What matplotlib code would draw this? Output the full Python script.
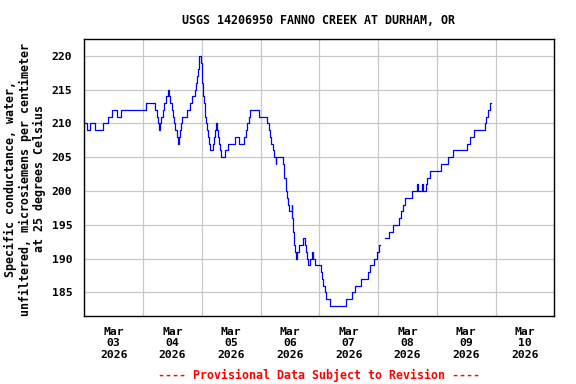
import numpy as np
import matplotlib
matplotlib.use("Agg")
import matplotlib.pyplot as plt
import matplotlib.dates as mdates
from datetime import datetime, timedelta

# hours after 2026-03-03 00:00 where the reading changes, and the new reading
hours = [0.25, 1.0, 2.5, 4.25, 7.5, 9.75, 11.25, 13.5, 15.0, 25.25,
         29.0, 29.5, 30.0, 30.5, 31.0, 31.25, 32.0, 32.75, 33.25, 34.0,
         34.5, 35.0, 35.75, 36.25, 36.75, 37.25, 37.75, 38.25, 38.75, 39.0,
         39.5, 40.0, 42.0, 43.0, 44.0, 45.25, 45.5, 46.0, 46.25, 46.75,
         47.0, 47.75, 48.0, 48.25, 48.5, 48.75, 49.25, 49.75, 50.0, 50.5,
         51.0, 51.25, 52.5, 53.0, 53.5, 53.75, 54.25, 54.5, 55.0, 55.5,
         56.0, 57.5, 58.5, 61.75, 63.25, 65.25, 66.0, 66.5, 67.25, 67.75,
         71.5, 74.5, 75.25, 75.75, 76.25, 77.0, 77.5, 78.25, 78.5, 81.0,
         81.5, 81.75, 82.25, 82.5, 83.0, 83.25, 83.5, 84.75, 85.0, 85.25,
         85.75, 86.0, 86.5, 87.0, 87.75, 89.5, 90.0, 90.5, 91.0, 91.5,
         92.25, 93.0, 93.5, 94.25, 96.75, 97.25, 97.5, 98.25, 98.75, 100.5,
         107.0, 109.5, 110.5, 113.0, 116.0, 116.75, 118.5, 119.5, 120.5, 121.0,
         122.75, 124.5, 126.0, 128.75, 129.25, 130.25, 131.0, 133.75, 136.0, 136.5,
         138.0, 138.5, 139.5, 140.0, 141.25, 145.75, 148.5, 150.75, 156.5, 157.5,
         159.25, 163.5, 164.0, 165.0, 165.75, 166.0]
conductance = [210, 209, 210, 209, 210, 211, 212, 211, 212, 213,
               212, 211, 210, 209, 210, 211, 212, 213, 214, 215,
               214, 213, 212, 211, 210, 209, 208, 207, 208, 209,
               210, 211, 212, 213, 214, 215, 216, 217, 218, 219,
               220, 219, 218, 216, 214, 213, 211, 210, 209, 208,
               207, 206, 207, 208, 209, 210, 209, 208, 207, 206,
               205, 206, 207, 208, 207, 208, 209, 210, 211, 212,
               211, 210, 209, 208, 207, 206, 205, 204, 205, 204,
               203, 202, 201, 200, 199, 198, 197, 198, 196, 194,
               192, 191, 190, 191, 192, 193, 192, 191, 190, 189,
               190, 191, 190, 189, 188, 187, 186, 185, 184, 183,
               184, 185, 186, 187, 188, 189, 190, 191, 192, np.nan,
               193, 194, 195, 196, 197, 198, 199, 200, 201, 200,
               201, 200, 201, 202, 203, 204, 205, 206, 207, 208,
               209, 210, 211, 212, 213, 213]

start = datetime(2026, 3, 3)
times = [start + timedelta(hours=h) for h in hours]

font = "DejaVu Sans Mono"

fig = plt.figure(figsize=(5.76, 3.84), dpi=100)
ax = fig.add_axes([84.3 / 576, 1 - 315.7 / 384, 470 / 576, 276.4 / 384])

ax.plot(times, conductance, color="#0000ff", lw=0.9, drawstyle="steps-post")

ax.set_xlim(start, start + timedelta(days=8))
ax.set_ylim(181.55, 222.45)
ax.set_yticks([185, 190, 195, 200, 205, 210, 215, 220])

ax.xaxis.set_major_locator(mdates.DayLocator())
ax.xaxis.set_major_formatter(plt.NullFormatter())
ax.xaxis.set_minor_locator(mdates.HourLocator(byhour=[12]))
ax.xaxis.set_minor_formatter(mdates.DateFormatter("%b\n%d\n%Y"))

ax.grid(True, which="major", color="#c8c8c8", lw=0.9)
ax.set_axisbelow(True)
ax.tick_params(axis="both", which="both", length=0)
ax.tick_params(axis="x", which="minor", pad=8)
ax.tick_params(axis="y", pad=8.5)
for lab in ax.get_xticklabels(minor=True):
    lab.set_fontfamily(font)
    lab.set_fontweight("bold")
    lab.set_fontsize(8.2)
for lab in ax.get_yticklabels():
    lab.set_fontfamily(font)
    lab.set_fontweight("bold")
    lab.set_fontsize(8.2)
for s in ax.spines.values():
    s.set_linewidth(1.0)

fig.text(319 / 576, 1 - 20 / 384, "USGS 14206950 FANNO CREEK AT DURHAM, OR",
         ha="center", va="center", fontfamily=font, fontweight="bold", fontsize=8.4)
fig.text(25 / 576, 1 - 179 / 384,
         "Specific conductance, water,\nunfiltered, microsiemens per centimeter\nat 25 degrees Celsius",
         ha="center", va="center", rotation=90, multialignment="center",
         fontfamily=font, fontweight="bold", fontsize=8.4, linespacing=1.1)
fig.text(319 / 576, 1 - 375 / 384, "---- Provisional Data Subject to Revision ----",
         ha="center", va="center", color="#ff0000",
         fontfamily=font, fontweight="bold", fontsize=8.4)

fig.savefig("out.png", dpi=100)
